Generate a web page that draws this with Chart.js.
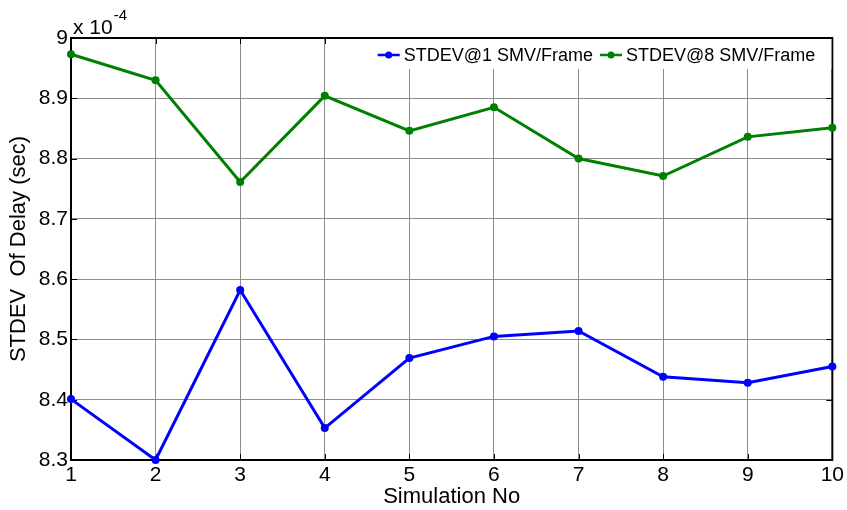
<!DOCTYPE html>
<html>
<head>
<meta charset="utf-8">
<script src="https://cdn.jsdelivr.net/npm/chart.js@4"></script>
<style>
  html, body { margin: 0; padding: 0; background: #fff; }
</style>
</head>
<body>
<canvas id="delayChart" width="847" height="510"></canvas>
<script>
// values are in units of 1e-4 sec (axis shows "x 10^-4")
const simulationNo = [1, 2, 3, 4, 5, 6, 7, 8, 9, 10];
const stdevOne = [8.401, 8.300, 8.582, 8.353, 8.469, 8.505, 8.514, 8.438, 8.428, 8.455];
const stdevEight = [8.973, 8.930, 8.761, 8.904, 8.846, 8.885, 8.800, 8.771, 8.836, 8.851];
const seriesNames = ["STDEV@1 SMV/Frame", "STDEV@8 SMV/Frame"];
const seriesColors = ["#0000ff", "#008000"];
const yMin = 8.3;
const yMax = 9.0;
const yStep = 0.1;

const FONT = "'Liberation Sans', Arial, sans-serif";

// matlab style box, inward ticks, legend inside the axes and the exponent
const matlabFrame = {
  id: "matlabFrame",
  beforeDatasetsDraw(chart) {
    const ctx = chart.ctx;
    const a = chart.chartArea;
    const xs = chart.scales.x;
    const ys = chart.scales.y;
    ctx.save();
    ctx.strokeStyle = "#000";
    ctx.lineWidth = 1;
    ctx.beginPath();
    xs.ticks.forEach((t, i) => {
      const px = Math.round(xs.getPixelForTick(i)) + 0.5;
      ctx.moveTo(px, a.bottom);
      ctx.lineTo(px, a.bottom - 6);
      ctx.moveTo(px, a.top);
      ctx.lineTo(px, a.top + 6);
    });
    ys.ticks.forEach((t) => {
      const py = Math.round(ys.getPixelForValue(t.value)) + 0.5;
      ctx.moveTo(a.left, py);
      ctx.lineTo(a.left + 6, py);
      ctx.moveTo(a.right, py);
      ctx.lineTo(a.right - 6, py);
    });
    ctx.stroke();
    ctx.lineWidth = 2;
    ctx.strokeRect(a.left, a.top, a.right - a.left, a.bottom - a.top);
    ctx.restore();
  },
  afterDraw(chart) {
    const ctx = chart.ctx;
    const a = chart.chartArea;
    ctx.save();

    // legend box
    ctx.font = "18px " + FONT;
    const lineLen = 22;
    const widths = chart.data.datasets.map((d) => ctx.measureText(d.label).width);
    let total = 0;
    widths.forEach((w) => (total += lineLen + 5 + w + 6));
    let x = a.right - 10 - total;
    ctx.fillStyle = "#fff";
    ctx.fillRect(x - 6, a.top + 1, a.right - 1 - (x - 6), 30);
    const cy = a.top + 17;
    chart.data.datasets.forEach((d, i) => {
      ctx.strokeStyle = d.borderColor;
      ctx.lineWidth = 2.5;
      ctx.beginPath();
      ctx.moveTo(x, cy);
      ctx.lineTo(x + lineLen, cy);
      ctx.stroke();
      ctx.fillStyle = d.borderColor;
      ctx.beginPath();
      ctx.arc(x + lineLen / 2, cy, 3.5, 0, Math.PI * 2);
      ctx.fill();
      ctx.fillStyle = "#000";
      ctx.textBaseline = "middle";
      ctx.fillText(d.label, x + lineLen + 4, cy + 1);
      x += lineLen + 5 + widths[i] + 6;
    });

    // exponent label
    ctx.fillStyle = "#000";
    ctx.textBaseline = "alphabetic";
    ctx.font = "21px " + FONT;
    ctx.fillText("x 10", a.left + 2, a.top - 4);
    const w = ctx.measureText("x 10").width;
    ctx.font = "15px " + FONT;
    ctx.fillText("-4", a.left + 3 + w, a.top - 18);
    ctx.restore();
  },
};

const ctx = document.getElementById("delayChart").getContext("2d");
new Chart(ctx, {
  type: "line",
  data: {
    labels: simulationNo,
    datasets: [
      {
        label: seriesNames[0],
        data: stdevOne,
        borderColor: seriesColors[0],
        backgroundColor: seriesColors[0],
        borderWidth: 3,
        pointRadius: 4,
        pointBorderWidth: 0,
        tension: 0,
        clip: false,
      },
      {
        label: seriesNames[1],
        data: stdevEight,
        borderColor: seriesColors[1],
        backgroundColor: seriesColors[1],
        borderWidth: 3,
        pointRadius: 4,
        pointBorderWidth: 0,
        tension: 0,
        clip: false,
      },
    ],
  },
  options: {
    responsive: false,
    animation: false,
    layout: { padding: { left: 0, top: 38, right: 14, bottom: 0 } },
    plugins: {
      legend: { display: false },
      tooltip: { enabled: false },
    },
    scales: {
      x: {
        type: "category",
        offset: false,
        grid: { color: "#8c8c8c", lineWidth: 1, drawTicks: false, offset: false },
        border: { display: false },
        ticks: {
          color: "#000",
          font: { family: FONT, size: 21 },
          padding: 3,
          maxRotation: 0,
        },
        title: {
          display: true,
          text: "Simulation No",
          color: "#000",
          font: { family: FONT, size: 22 },
          padding: { top: 0, bottom: 0 },
        },
        afterFit(scale) {
          scale.height = 50;
        },
      },
      y: {
        min: yMin,
        max: yMax,
        grid: { color: "#8c8c8c", lineWidth: 1, drawTicks: false },
        border: { display: false },
        ticks: {
          stepSize: yStep,
          color: "#000",
          font: { family: FONT, size: 21 },
          padding: 3,
          callback: (v) => Number(v.toFixed(1)).toString(),
        },
        title: {
          display: true,
          text: "STDEV  Of Delay (sec)",
          color: "#000",
          font: { family: FONT, size: 22 },
          padding: { top: 6, bottom: 0 },
        },
        afterFit(scale) {
          scale.width = 71;
        },
      },
    },
  },
  plugins: [matlabFrame],
});
</script>
</body>
</html>
